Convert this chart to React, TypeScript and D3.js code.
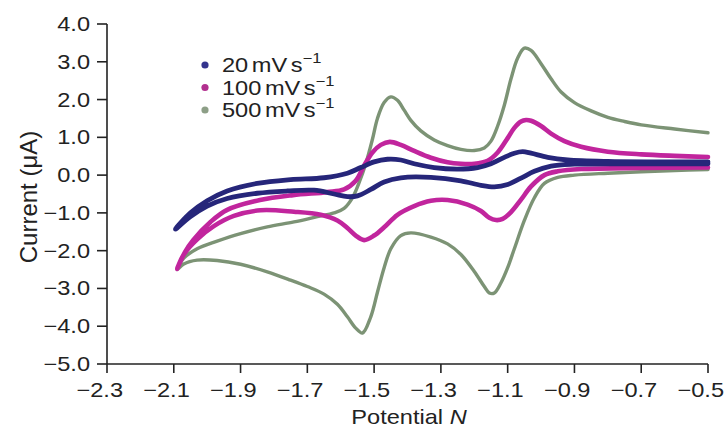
import React from "react";
import * as d3 from "d3";

// Potential (V), current (µA) pairs
const blueForward: [number, number][] = [
  [-2.095, -1.43], [-2.05, -1.0], [-2.0, -0.68], [-1.94, -0.42], [-1.85, -0.22],
  [-1.75, -0.12], [-1.65, -0.07], [-1.58, 0.05], [-1.54, 0.2], [-1.5, 0.35],
  [-1.46, 0.42], [-1.42, 0.4], [-1.38, 0.3], [-1.32, 0.2], [-1.25, 0.16],
  [-1.19, 0.2], [-1.15, 0.3], [-1.11, 0.47], [-1.08, 0.58], [-1.055, 0.62],
  [-1.03, 0.58], [-0.98, 0.47], [-0.92, 0.4], [-0.8, 0.36], [-0.65, 0.35], [-0.5, 0.35],
];
const blueReverse: [number, number][] = [
  [-0.5, 0.3], [-0.7, 0.3], [-0.9, 0.29], [-0.97, 0.24], [-1.02, 0.1],
  [-1.06, -0.08], [-1.1, -0.25], [-1.14, -0.31], [-1.18, -0.27], [-1.24, -0.15],
  [-1.33, -0.06], [-1.42, -0.07], [-1.47, -0.18], [-1.51, -0.38], [-1.55, -0.55],
  [-1.58, -0.57], [-1.62, -0.5], [-1.68, -0.4], [-1.76, -0.42], [-1.85, -0.48],
  [-1.94, -0.62], [-2.0, -0.82], [-2.05, -1.1], [-2.095, -1.43],
];
const magentaForward: [number, number][] = [
  [-2.09, -2.48], [-2.066, -2.03], [-2.042, -1.72], [-1.99, -1.24], [-1.94, -0.92],
  [-1.842, -0.66], [-1.743, -0.53], [-1.641, -0.45], [-1.59, -0.38], [-1.555, -0.15],
  [-1.53, 0.25], [-1.505, 0.6], [-1.48, 0.8], [-1.453, 0.88], [-1.42, 0.8],
  [-1.38, 0.64], [-1.33, 0.46], [-1.28, 0.34], [-1.24, 0.3], [-1.2, 0.3],
  [-1.16, 0.38], [-1.13, 0.6], [-1.1, 0.98], [-1.08, 1.25], [-1.06, 1.42],
  [-1.045, 1.46], [-1.03, 1.44], [-1.0, 1.3], [-0.97, 1.1], [-0.93, 0.9],
  [-0.88, 0.75], [-0.8, 0.62], [-0.7, 0.55], [-0.6, 0.51], [-0.5, 0.48],
];
const magentaReverse: [number, number][] = [
  [-0.5, 0.2], [-0.7, 0.19], [-0.88, 0.16], [-0.95, 0.1], [-0.99, 0.0],
  [-1.03, -0.3], [-1.06, -0.65], [-1.09, -0.98], [-1.115, -1.16], [-1.135, -1.19],
  [-1.155, -1.13], [-1.18, -0.95], [-1.22, -0.78], [-1.28, -0.66], [-1.33, -0.68],
  [-1.38, -0.82], [-1.43, -1.05], [-1.47, -1.38], [-1.5, -1.6], [-1.53, -1.72],
  [-1.555, -1.6], [-1.58, -1.4], [-1.61, -1.2], [-1.66, -1.05], [-1.74, -0.97],
  [-1.84, -0.93], [-1.92, -1.08], [-1.98, -1.35], [-2.03, -1.7], [-2.07, -2.1],
  [-2.09, -2.48],
];
const greenForward: [number, number][] = [
  [-2.09, -2.5], [-2.07, -2.2], [-2.03, -1.95], [-1.97, -1.75], [-1.9, -1.55],
  [-1.82, -1.37], [-1.74, -1.24], [-1.67, -1.1], [-1.62, -1.0], [-1.59, -0.88],
  [-1.565, -0.6], [-1.545, -0.2], [-1.525, 0.3], [-1.505, 0.95], [-1.49, 1.5],
  [-1.47, 1.92], [-1.45, 2.07], [-1.43, 1.98], [-1.41, 1.72], [-1.39, 1.45],
  [-1.36, 1.17], [-1.32, 0.93], [-1.28, 0.78], [-1.24, 0.68], [-1.2, 0.65],
  [-1.17, 0.72], [-1.15, 0.9], [-1.13, 1.3], [-1.11, 1.85], [-1.09, 2.55],
  [-1.07, 3.1], [-1.05, 3.36], [-1.03, 3.3], [-1.0, 2.95], [-0.97, 2.55],
  [-0.94, 2.2], [-0.9, 1.92], [-0.85, 1.7], [-0.8, 1.53], [-0.75, 1.42],
  [-0.7, 1.33], [-0.6, 1.22], [-0.5, 1.12],
];
const greenReverse: [number, number][] = [
  [-0.5, 0.15], [-0.6, 0.12], [-0.7, 0.09], [-0.8, 0.05], [-0.9, 0.0],
  [-0.95, -0.06], [-0.99, -0.22], [-1.02, -0.6], [-1.05, -1.2], [-1.08, -1.95],
  [-1.1, -2.45], [-1.12, -2.85], [-1.14, -3.12], [-1.155, -3.12], [-1.17, -2.95],
  [-1.2, -2.55], [-1.24, -2.1], [-1.28, -1.82], [-1.33, -1.64], [-1.39, -1.53],
  [-1.42, -1.6], [-1.45, -1.95], [-1.47, -2.45], [-1.49, -3.1], [-1.51, -3.75],
  [-1.535, -4.18], [-1.555, -4.05], [-1.58, -3.75], [-1.61, -3.42], [-1.65, -3.15],
  [-1.7, -2.95], [-1.75, -2.78], [-1.82, -2.56], [-1.9, -2.36], [-1.97, -2.26],
  [-2.03, -2.25], [-2.07, -2.35], [-2.09, -2.5],
];

const seriesLabels = ["20", "100", "500"];
const xTicks = [-2.3, -2.1, -1.9, -1.7, -1.5, -1.3, -1.1, -0.9, -0.7, -0.5];
const yTicks = [4, 3, 2, 1, 0, -1, -2, -3, -4, -5];

const FONT = "'Liberation Sans', Arial, Helvetica, sans-serif";
const SX = 1.18;

const fmt = (v: number) => (v < 0 ? "\u2212" : "") + Math.abs(v).toFixed(1);

export default function App() {
  const x = d3.scaleLinear().domain([-2.3, -0.5]).range([107, 708]);
  const y = d3.scaleLinear().domain([-5, 4]).range([364, 24]);
  const line = d3
    .line<[number, number]>()
    .x((d) => x(d[0]))
    .y((d) => y(d[1]))
    .curve(d3.curveCatmullRom.alpha(0.5));

  const series = [
    { fwd: greenForward, rev: greenReverse, color: "#7c9375", w: 3.4, dot: "#8d9f87" },
    { fwd: magentaForward, rev: magentaReverse, color: "#c1259d", w: 4.6, dot: "#b2308f" },
    { fwd: blueForward, rev: blueReverse, color: "#26267a", w: 4.8, dot: "#34348e" },
  ];
  const legendOrder = [2, 1, 0];

  return (
    <svg
      width={728}
      height={429}
      style={{ position: "absolute", left: 0, top: 0, background: "#fff" }}
      fontFamily={FONT}
    >
      <rect x={0} y={0} width={728} height={429} fill="#fff" />
      {series.map((s, i) => (
        <path
          key={i}
          d={line([...s.rev, ...s.fwd.slice(1)]) || ""}
          fill="none"
          stroke={s.color}
          strokeWidth={s.w}
          strokeLinejoin="round"
          strokeLinecap="round"
        />
      ))}

      {/* axes */}
      <line x1={107} y1={y(4)} x2={107} y2={364} stroke="#222" strokeWidth={1.6} />
      <line x1={107} y1={364} x2={708} y2={364} stroke="#222" strokeWidth={1.6} />
      {yTicks.map((t) => (
        <g key={"y" + t}>
          <line x1={97} x2={107} y1={y(t)} y2={y(t)} stroke="#222" strokeWidth={1.6} />
          <text
            transform={`translate(90,${y(t) + 7}) scale(${SX},1)`}
            textAnchor="end"
            fontSize={20}
            fill="#222"
          >
            {fmt(t)}
          </text>
        </g>
      ))}
      {xTicks.map((t) => (
        <g key={"x" + t}>
          <line x1={x(t)} x2={x(t)} y1={364} y2={373} stroke="#222" strokeWidth={1.6} />
          <text
            transform={`translate(${x(t) + 16},397) scale(${SX},1)`}
            textAnchor="end"
            fontSize={20}
            fill="#222"
          >
            {fmt(t)}
          </text>
        </g>
      ))}

      <text
        transform={`translate(37,197) rotate(-90) scale(1.2,1.15)`}
        textAnchor="middle"
        fontSize={20}
        fill="#222"
      >
        Current (μA)
      </text>
      <text
        transform={`translate(409,424) scale(${SX},1)`}
        textAnchor="middle"
        fontSize={20}
        fill="#222"
      >
        Potential <tspan fontStyle="italic">N</tspan>
      </text>

      {/* legend */}
      {legendOrder.map((si, row) => (
        <g key={"l" + row}>
          <circle cx={205} cy={65 + row * 22.5} r={3.6} fill={series[si].dot} />
          <text
            transform={`translate(222,${72 + row * 22.5}) scale(${SX},1)`}
            fontSize={20}
            fill="#222"
          >
            {seriesLabels[row]}
            <tspan dx={3}>mV</tspan>
            <tspan dx={3}>s</tspan>
            <tspan fontSize={14} dy={-9}>
              {"\u22121"}
            </tspan>
          </text>
        </g>
      ))}
    </svg>
  );
}
